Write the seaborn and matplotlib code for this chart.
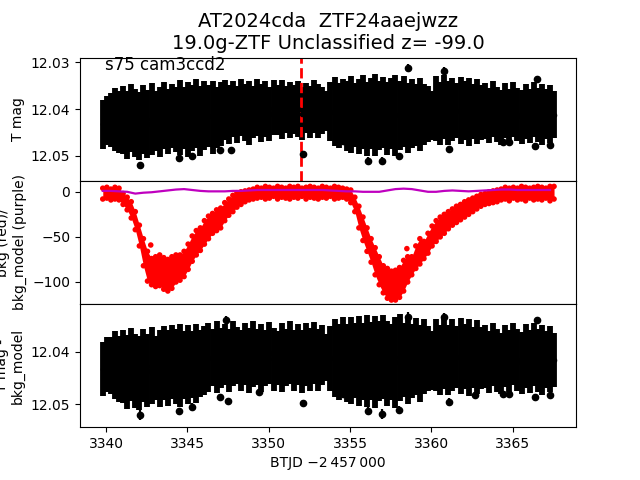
import numpy as np
import pandas as pd
import matplotlib
matplotlib.use("Agg")
import matplotlib.pyplot as plt
import seaborn as sns

# ---------------- data ----------------
title_text = "AT2024cda  ZTF24aaejwzz\n19.0g-ZTF Unclassified z= -99.0"
sector_text = "s75 cam3ccd2"
event_time = 3352.0

# regular sampling grid of the binned light curve (BTJD)
t_start, t_step, n_pts = 3339.8, 0.25, 112
btjd = t_start + t_step * np.arange(n_pts)

# top panel: T mag envelope (bright edge / faint edge of the error bars)
tmag_bright = [
    12.0380, 12.0371,
    12.0365, 12.0354, 12.0362,
    12.0350, 12.0361, 12.0347, 12.0358, 12.0364, 12.0349, 12.0359, 12.0345, 12.0362, 12.0352,
    12.0343, 12.0356, 12.0346, 12.0353,
    12.0338, 12.0352, 12.0342, 12.0349, 12.0336, 12.0350, 12.0341, 12.0348, 12.0339, 12.0353, 12.0343,
    12.0337, 12.0349, 12.0340, 12.0351, 12.0335, 12.0346, 12.0339, 12.0350, 12.0336, 12.0347, 12.0341, 12.0352, 12.0338,
    12.0348, 12.0337, 12.0351, 12.0342, 12.0349, 12.0339, 12.0353, 12.0344, 12.0350, 12.0338, 12.0347, 12.0352,
    12.0362,
    12.0343, 12.0332, 12.0345, 12.0335, 12.0341, 12.0330, 12.0344, 12.0336, 12.0328, 12.0342, 12.0333, 12.0326, 12.0340,
    12.0331, 12.0343, 12.0334, 12.0327, 12.0341, 12.0330, 12.0344, 12.0335, 12.0346, 12.0333, 12.0347, 12.0350,
    12.0362,
    12.0330, 12.0342, 12.0328, 12.0340, 12.0333, 12.0345, 12.0331, 12.0341, 12.0334, 12.0346, 12.0336, 12.0348,
    12.0344, 12.0355, 12.0341, 12.0353, 12.0359, 12.0345, 12.0356, 12.0342, 12.0354, 12.0360, 12.0346, 12.0357,
    12.0343, 12.0355, 12.0347, 12.0358, 12.0349, 12.0361,
]
tmag_faint = [
    12.0485, 12.0477,
    12.0480, 12.0489, 12.0494,
    12.0496, 12.0506, 12.0492, 12.0503, 12.0509, 12.0495, 12.0504, 12.0498, 12.0490, 12.0502,
    12.0486, 12.0495, 12.0482, 12.0492,
    12.0498, 12.0485, 12.0502, 12.0490, 12.0483, 12.0499, 12.0488, 12.0480, 12.0496, 12.0484, 12.0478,
    12.0466, 12.0475, 12.0460, 12.0472, 12.0458, 12.0469, 12.0476, 12.0462, 12.0457, 12.0471, 12.0460, 12.0468, 12.0456,
    12.0455, 12.0464, 12.0451, 12.0461, 12.0453, 12.0460, 12.0466, 12.0452, 12.0462, 12.0450, 12.0461, 12.0454,
    12.0446,
    12.0468, 12.0479, 12.0484, 12.0475, 12.0489, 12.0493, 12.0481, 12.0496, 12.0485, 12.0499, 12.0486, 12.0500, 12.0488,
    12.0483, 12.0497, 12.0485, 12.0499, 12.0487, 12.0480, 12.0494, 12.0483, 12.0478, 12.0490, 12.0476, 12.0471,
    12.0465,
    12.0469, 12.0477, 12.0464, 12.0476, 12.0468, 12.0462, 12.0475, 12.0466, 12.0478, 12.0463, 12.0474, 12.0466,
    12.0463, 12.0473, 12.0460, 12.0470, 12.0476, 12.0462, 12.0472, 12.0459, 12.0469, 12.0475, 12.0463, 12.0473,
    12.0460, 12.0471, 12.0477, 12.0464, 12.0472, 12.0462,
]
# isolated points of the top panel
tmag_out_t = [3342.1, 3344.5, 3345.3, 3347.0, 3347.7, 3352.1, 3354.6, 3356.1, 3357.0,
              3358.0, 3361.1, 3364.4, 3364.8, 3366.4, 3367.3, 3358.6, 3360.8, 3366.5]
tmag_out_m = [12.0520, 12.0505, 12.0500, 12.0487, 12.0487, 12.0496, 12.0468, 12.0510, 12.0510,
              12.0500, 12.0485, 12.0471, 12.0471, 12.0478, 12.0476, 12.0312, 12.0318, 12.0335]
tmag_out_e = [0.0008, 0.0007, 0.0007, 0.0006, 0.0006, 0.0006, 0.0006, 0.0008, 0.0008,
              0.0007, 0.0007, 0.0006, 0.0006, 0.0006, 0.0006, 0.0008, 0.0007, 0.0006]

# middle panel: background flux envelope (red) and background model (purple)
bkg_high = [
    4, 5, 3, 5, 4,
    -2, -6, -11, -22, -37, -52, -66, -74, -72, -70, -73, -75, -72, -70, -70,
    -66, -58, -49, -43, -40, -32, -27, -24, -20, -18, -12, -8, -4, -1, 0, 1, 2, 3,
    5, 4, 6, 5, 4, 6, 5, 4, 6, 5, 6, 4, 5, 6, 5, 4, 6, 5, 4, 6, 5, 4, 3,
    2, -6, -16, -28, -40, -52, -62, -72, -82, -85, -88, -87, -84, -76, -72, -72,
    -60, -52, -55, -46, -38, -32, -28, -25, -22, -19, -16, -14, -11, -9, -7, -5, -3, -2,
    0, 1, 2,
    3, 5, 4, 5, 4, 6, 5, 4, 5, 6, 5, 4, 6, 6,
]
bkg_low = [
    -8, -7, -9, -8, -9,
    -14, -20, -29, -42, -60, -82, -99, -103, -105, -104, -108, -110, -107, -100, -98,
    -94, -86, -77, -70, -65, -58, -52, -46, -43, -40, -32, -26, -22, -17, -14, -11, -9, -8,
    -7, -6, -8, -7, -5, -8, -6, -7, -8, -6, -7, -5, -8, -6, -7, -8, -6, -7, -5, -8, -7, -6, -8,
    -12, -22, -40, -54, -66, -78, -92, -103, -112, -118, -120, -120, -117, -110, -100, -92,
    -85, -80, -74, -68, -60, -55, -50, -46, -41, -37, -34, -31, -28, -25, -22, -19, -16, -14,
    -13, -12, -11,
    -9, -8, -10, -7, -9, -8, -10, -7, -9, -8, -9, -7, -10, -8,
]
bkg_out_t = [3342.75, 3358.5]
bkg_out_v = [-59, -63]

model_t_start, model_t_step, model_n = 3339.8, 0.5, 56
bkg_model = [
    1.0, 1.0, 0.5, 0.0, -2.0, -1.0, -0.5, 0.5, 1.5, 2.5, 3.0, 2.0, 1.0, 0.5, 0.5, 0.5,
    1.0, 1.0, 1.5, 2.0, 2.0, 2.0, 2.0, 2.0, 2.0, 2.0, 2.0, 2.0, 1.5, 1.0, 0.5, 0.5,
    0.0, 0.0, 0.0, 1.5, 3.0, 3.5, 3.0, 1.5, 0.0, 0.0, 1.0, 1.5, 1.0, 0.5, 1.0, 1.5,
    2.0, 2.5, 2.5, 2.0, 2.0, 2.0, 2.0, 2.0,
]

# bottom panel: T mag - bkg_model envelope
corr_bright = [
    12.0381, 12.0373,
    12.0372, 12.0362, 12.0370,
    12.0360, 12.0369, 12.0356, 12.0366, 12.0371, 12.0357, 12.0367, 12.0354, 12.0370, 12.0359,
    12.0352, 12.0360, 12.0349, 12.0358, 12.0347, 12.0361, 12.0350, 12.0362, 12.0348, 12.0359, 12.0351,
    12.0346, 12.0357, 12.0343, 12.0355, 12.0347, 12.0358, 12.0342, 12.0354, 12.0360, 12.0345, 12.0356,
    12.0343, 12.0358, 12.0347, 12.0359, 12.0344, 12.0355, 12.0361, 12.0346, 12.0357, 12.0343, 12.0359,
    12.0348, 12.0360, 12.0345, 12.0356, 12.0344, 12.0358, 12.0350,
    12.0366,
    12.0351, 12.0339, 12.0348, 12.0335, 12.0347, 12.0334, 12.0346, 12.0333, 12.0345, 12.0331, 12.0344,
    12.0332, 12.0343, 12.0330, 12.0342, 12.0347, 12.0334, 12.0328, 12.0345, 12.0333, 12.0348, 12.0336,
    12.0349, 12.0338, 12.0351,
    12.0362,
    12.0338, 12.0350, 12.0335, 12.0349, 12.0339, 12.0352, 12.0336, 12.0348, 12.0338, 12.0353, 12.0340, 12.0354,
    12.0349, 12.0361, 12.0346, 12.0358, 12.0364, 12.0350, 12.0360, 12.0345, 12.0357, 12.0363, 12.0348, 12.0360,
    12.0346, 12.0358, 12.0350, 12.0362, 12.0351, 12.0364,
]
corr_faint = [
    12.0484, 12.0477,
    12.0480, 12.0489, 12.0495,
    12.0497, 12.0508, 12.0494, 12.0506, 12.0511, 12.0496, 12.0505, 12.0499, 12.0492, 12.0504,
    12.0492, 12.0502, 12.0489, 12.0500, 12.0505, 12.0490, 12.0499, 12.0488, 12.0498, 12.0486, 12.0483,
    12.0477, 12.0466, 12.0479, 12.0468, 12.0464, 12.0477, 12.0465, 12.0461, 12.0475, 12.0464, 12.0479,
    12.0467, 12.0463, 12.0476, 12.0465, 12.0461, 12.0474, 12.0463, 12.0477, 12.0466, 12.0461, 12.0475,
    12.0464, 12.0478, 12.0465, 12.0474, 12.0462, 12.0475, 12.0464,
    12.0455,
    12.0475, 12.0486, 12.0491, 12.0481, 12.0496, 12.0500, 12.0487, 12.0503, 12.0491, 12.0505, 12.0492,
    12.0507, 12.0494, 12.0489, 12.0503, 12.0491, 12.0506, 12.0493, 12.0486, 12.0500, 12.0488, 12.0482,
    12.0496, 12.0480, 12.0475,
    12.0472,
    12.0474, 12.0483, 12.0470, 12.0482, 12.0474, 12.0468, 12.0481, 12.0471, 12.0484, 12.0469, 12.0480, 12.0471,
    12.0468, 12.0478, 12.0465, 12.0476, 12.0481, 12.0467, 12.0477, 12.0464, 12.0475, 12.0480, 12.0468, 12.0478,
    12.0465, 12.0476, 12.0482, 12.0469, 12.0477, 12.0467,
]
corr_out_t = [3342.1, 3344.5, 3345.3, 3347.0, 3347.5, 3349.4, 3352.1, 3354.6, 3356.1, 3357.0, 3358.0,
              3361.1, 3362.7, 3364.4, 3364.8, 3366.4, 3367.3, 3347.4, 3358.6, 3360.8, 3366.5]
corr_out_m = [12.0520, 12.0513, 12.0505, 12.0486, 12.0494, 12.0477, 12.0497, 12.0480, 12.0512, 12.0518, 12.0510,
              12.0495, 12.0482, 12.0480, 12.0480, 12.0486, 12.0482, 12.0340, 12.0334, 12.0334, 12.0340]
corr_out_e = [0.0009, 0.0007, 0.0007, 0.0006, 0.0006, 0.0006, 0.0006, 0.0006, 0.0008, 0.0009, 0.0008,
              0.0007, 0.0006, 0.0006, 0.0006, 0.0006, 0.0006, 0.0007, 0.0008, 0.0007, 0.0006]

# ---------------- tables ----------------
tmag_df = pd.DataFrame({"btjd": btjd, "bright": tmag_bright, "faint": tmag_faint})
tmag_df["mag"] = (tmag_df["bright"] + tmag_df["faint"]) / 2
tmag_df["err"] = (tmag_df["faint"] - tmag_df["bright"]) / 2

corr_df = pd.DataFrame({"btjd": btjd, "bright": corr_bright, "faint": corr_faint})
corr_df["mag"] = (corr_df["bright"] + corr_df["faint"]) / 2
corr_df["err"] = (corr_df["faint"] - corr_df["bright"]) / 2

bkg_df = pd.DataFrame({"btjd": btjd, "high": bkg_high, "low": bkg_low})
model_df = pd.DataFrame({"btjd": model_t_start + model_t_step * np.arange(model_n),
                         "bkg_model": bkg_model})

# ---------------- figure ----------------
fig, (ax1, ax2, ax3) = plt.subplots(3, 1, sharex=True, figsize=(6.4, 4.8), dpi=100)
fig.subplots_adjust(hspace=0)

band_kw = dict(fmt="o", ms=3, color="k", ecolor="k", elinewidth=4.2, capsize=0, lw=0)
out_kw = dict(fmt="o", ms=4.5, color="k", ecolor="k", elinewidth=1.6, capsize=0, lw=0)

# top panel
ax1.errorbar(tmag_df["btjd"], tmag_df["mag"], yerr=tmag_df["err"], **band_kw)
ax1.errorbar(tmag_out_t, tmag_out_m, yerr=tmag_out_e, **out_kw)
ax1.axvline(event_time, color="r", ls="--", lw=2)
ax1.set_ylim(12.0553, 12.0290)
ax1.set_yticks([12.03, 12.04, 12.05])
ax1.set_ylabel("T mag")
ax1.text(0.05, 0.9, sector_text, transform=ax1.transAxes, fontsize=12)
ax1.set_title(title_text, fontsize=14)

# middle panel
ax2.fill_between(bkg_df["btjd"], bkg_df["low"], bkg_df["high"], color="r", lw=0)
sns.scatterplot(x=bkg_df["btjd"], y=bkg_df["high"], color="r", s=16, edgecolor="none", ax=ax2)
sns.scatterplot(x=bkg_df["btjd"], y=bkg_df["low"], color="r", s=16, edgecolor="none", ax=ax2)
sns.scatterplot(x=bkg_out_t, y=bkg_out_v, color="r", s=16, edgecolor="none", ax=ax2)
sns.lineplot(data=model_df, x="btjd", y="bkg_model", color="m", lw=1.6, ax=ax2)
ax2.set_ylim(-124.4, 12.2)
ax2.set_yticks([0, -50, -100])
ax2.set_ylabel("bkg (red)/\nbkg_model (purple)")

# bottom panel
ax3.errorbar(corr_df["btjd"], corr_df["mag"], yerr=corr_df["err"], **band_kw)
ax3.errorbar(corr_out_t, corr_out_m, yerr=corr_out_e, **out_kw)
ax3.set_ylim(12.0543, 12.0310)
ax3.set_yticks([12.04, 12.05])
ax3.set_ylabel("T mag -\nbkg_model")

ax3.set_xlim(3338.4, 3368.9)
ax3.set_xticks([3340, 3345, 3350, 3355, 3360, 3365])
ax3.set_xlabel("BTJD \u22122\u2009457\u2009000")

fig.savefig("out.png", dpi=100)
